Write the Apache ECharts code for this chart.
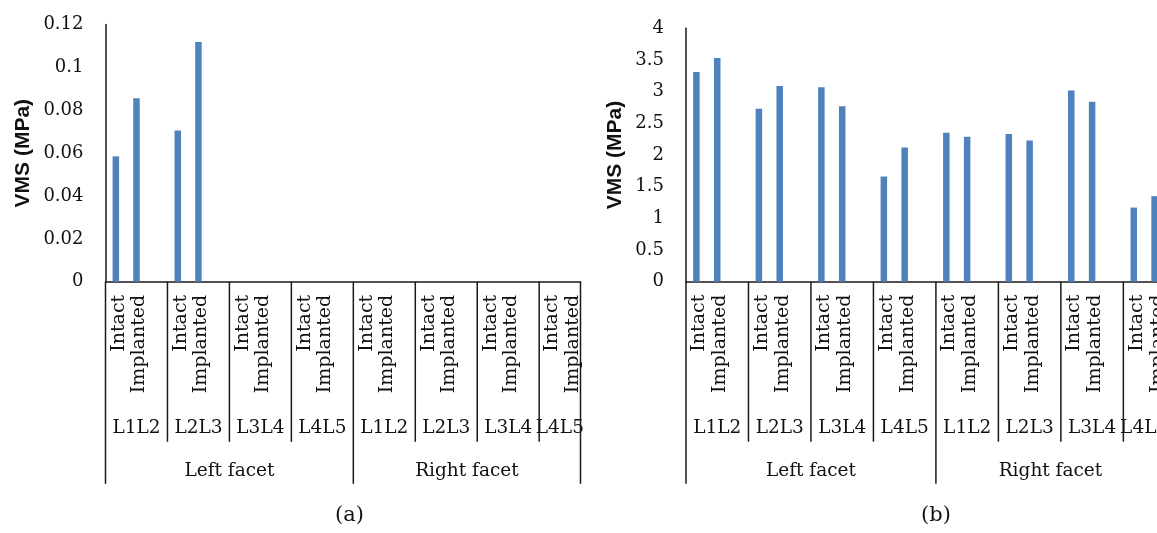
<!DOCTYPE html>
<html>
<head>
<meta charset="utf-8">
<script src="https://cdn.jsdelivr.net/npm/echarts@6/dist/echarts.min.js"></script>
<style>
html,body{margin:0;padding:0;background:#fff;}
#c{width:1157px;height:533px;}
</style>
</head>
<body>
<div id="c"></div>
<script>
// ---- data ----
const groupLabels = ['L1L2', 'L2L3', 'L3L4', 'L4L5', 'L1L2', 'L2L3', 'L3L4', 'L4L5'];
const facetLabels = ['Left facet', 'Right facet'];
const conditionLabels = ['Intact', 'Implanted'];
const vmsA_Intact = [0.0585, 0.0706, 0, 0, 0, 0, 0, 0];
const vmsA_Implanted = [0.0856, 0.1118, 0, 0, 0, 0, 0, 0];
const vmsB_Intact = [3.31, 2.73, 3.07, 1.66, 2.35, 2.33, 3.02, 1.17];
const vmsB_Implanted = [3.53, 3.09, 2.77, 2.12, 2.29, 2.23, 2.84, 1.35];
const yAxisA = { min: 0, max: 0.12, interval: 0.02 };
const yAxisB = { min: 0, max: 4, interval: 0.5 };
const yTitle = 'VMS (MPa)';
const captions = ['(a)', '(b)'];

// ---- build slot categories (Intact, Implanted, blank spacer between groups) ----
function buildSlots() {
  const cats = [];
  const groupItems = [];
  const facetItems = [];
  let facetStart = 0;
  groupLabels.forEach((g, i) => {
    const start = cats.length;
    conditionLabels.forEach(c => cats.push(c));
    const last = i === groupLabels.length - 1;
    if (!last) cats.push('');
    groupItems.push([start, 0, cats.length - 1, i]);
    if (i === groupLabels.length / 2 - 1 || last) {
      facetItems.push([facetStart, 0, cats.length - 1, facetItems.length]);
      facetStart = cats.length;
    }
  });
  return { cats, groupItems, facetItems };
}
const slots = buildSlots();
function slotValues(intact, implanted) {
  const out = [];
  intact.forEach((v, i) => {
    out.push(intact[i], implanted[i]);
    if (i < intact.length - 1) out.push(null);
  });
  return out;
}

const TXT = '#111';
const LINE = '#1a1a1a';
const SERIF = 'DejaVu Serif';
const LW = 1.5;

function groupRender(params, api) {
  const s = api.value(0), e = api.value(2), idx = api.value(3);
  const w = api.size([1, 0])[0];
  const p0 = api.coord([s, 0]), p1 = api.coord([e, 0]);
  const x0 = p0[0] - w / 2, x1 = p1[0] + w / 2, y0 = p0[1];
  const kids = [];
  if (idx !== 0 && idx !== groupLabels.length / 2) {
    kids.push({ type: 'line', shape: { x1: x0, y1: y0, x2: x0, y2: y0 + 160 }, style: { stroke: LINE, lineWidth: LW } });
  }
  kids.push({ type: 'text', style: { text: groupLabels[idx], x: (x0 + x1) / 2, y: y0 + 146, align: 'center', verticalAlign: 'middle', fill: TXT, font: '18.5px "' + SERIF + '"' } });
  return { type: 'group', children: kids };
}
function facetRender(params, api) {
  const s = api.value(0), e = api.value(2), idx = api.value(3);
  const w = api.size([1, 0])[0];
  const p0 = api.coord([s, 0]), p1 = api.coord([e, 0]);
  const x0 = p0[0] - w / 2, x1 = p1[0] + w / 2, y0 = p0[1];
  const kids = [
    { type: 'line', shape: { x1: x0, y1: y0, x2: x0, y2: y0 + 202 }, style: { stroke: LINE, lineWidth: LW } },
    { type: 'text', style: { text: facetLabels[idx], x: (x0 + x1) / 2, y: y0 + 189, align: 'center', verticalAlign: 'middle', fill: TXT, font: '18.5px "' + SERIF + '"' } }
  ];
  if (idx === facetLabels.length - 1) {
    kids.push({ type: 'line', shape: { x1: x1, y1: y0, x2: x1, y2: y0 + 202 }, style: { stroke: LINE, lineWidth: LW } });
  }
  return { type: 'group', children: kids };
}

function xAxisCfg(gi) {
  return {
    type: 'category', gridIndex: gi, data: slots.cats,
    axisLine: { show: true, lineStyle: { color: LINE, width: LW } },
    axisTick: { show: false },
    axisLabel: { interval: 0, rotate: 90, margin: 13, verticalAlign: 'top', lineHeight: 6, color: TXT, fontFamily: SERIF, fontSize: 19, hideOverlap: false },
    splitLine: { show: false }
  };
}
function yAxisCfg(gi, cfg, gap) {
  return {
    type: 'value', gridIndex: gi, min: cfg.min, max: cfg.max, interval: cfg.interval,
    name: yTitle, nameLocation: 'middle', nameGap: gap,
    nameTextStyle: { fontFamily: 'Liberation Sans', fontWeight: 'bold', fontSize: 21, color: TXT },
    axisLine: { show: true, lineStyle: { color: LINE, width: LW } },
    axisTick: { show: false },
    splitLine: { show: false },
    axisLabel: { margin: 22, color: TXT, fontFamily: SERIF, fontSize: 18 }
  };
}
function barSeries(gi, data) {
  return { type: 'bar', xAxisIndex: gi, yAxisIndex: gi, data: data, barWidth: 6.5, itemStyle: { color: '#4f81bd' }, silent: true, animation: false };
}
function customSeries(gi, items, fn) {
  return { type: 'custom', xAxisIndex: gi, yAxisIndex: gi, data: items, renderItem: fn, clip: false, silent: true, animation: false, encode: { x: 0, y: 1 } };
}

const chart = echarts.init(document.getElementById('c'), null, { renderer: 'canvas' });
chart.setOption({
  backgroundColor: '#fff',
  animation: false,
  grid: [
    { left: 105.5, top: 24.5, width: 475, height: 257.3, containLabel: false, outerBoundsMode: 'none' },
    { left: 686, top: 28.3, width: 479, height: 253.4, containLabel: false, outerBoundsMode: 'none' }
  ],
  xAxis: [xAxisCfg(0), xAxisCfg(1)],
  yAxis: [yAxisCfg(0, yAxisA, 72), yAxisCfg(1, yAxisB, 60)],
  series: [
    barSeries(0, slotValues(vmsA_Intact, vmsA_Implanted)),
    barSeries(1, slotValues(vmsB_Intact, vmsB_Implanted)),
    customSeries(0, slots.groupItems, groupRender),
    customSeries(0, slots.facetItems, facetRender),
    customSeries(1, slots.groupItems, groupRender),
    customSeries(1, slots.facetItems, facetRender)
  ],
  graphic: [
    { type: 'text', left: 335, top: 505, style: { text: captions[0], fill: TXT, font: '21px "' + SERIF + '"' } },
    { type: 'text', left: 921, top: 505, style: { text: captions[1], fill: TXT, font: '21px "' + SERIF + '"' } }
  ]
});
</script>
</body>
</html>
